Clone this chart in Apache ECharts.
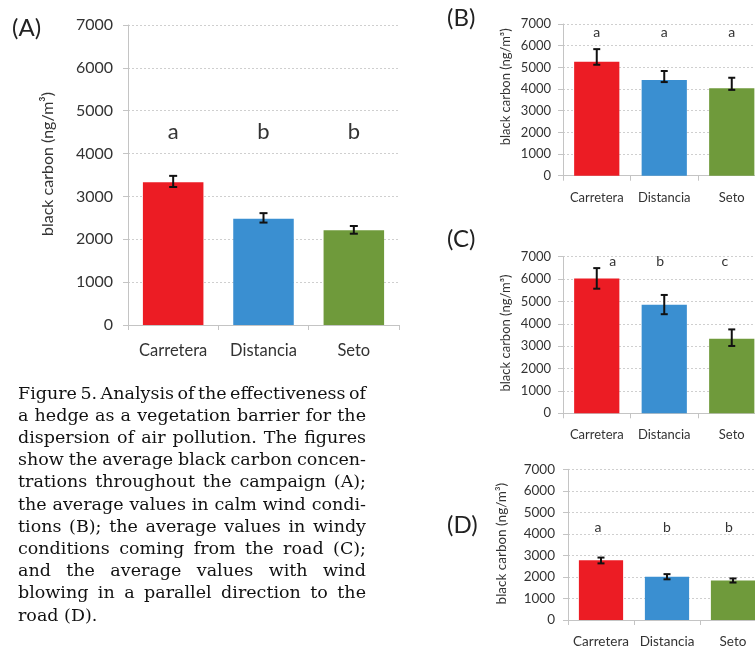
<!DOCTYPE html>
<html><head><meta charset="utf-8">
<script src="https://cdn.jsdelivr.net/npm/echarts@6/dist/echarts.min.js"></script>
<style>html,body{margin:0;padding:0;background:#fff}#c{width:755px;height:648px}</style>
</head><body><div id="c"></div>
<script>
// ---------- data ----------
const categories = ['Carretera', 'Distancia', 'Seto'];
const yTickMax = 7000;
const yTickStep = 1000;
const axisName = 'black carbon (ng/m³)';

const meanA = [3330, 2480, 2210];
const lowA  = [3220, 2390, 2130];
const highA = [3480, 2610, 2310];
const lettersA = ['a', 'b', 'b'];

const meanB = [5260, 4420, 4040];
const lowB  = [5120, 4320, 3960];
const highB = [5840, 4830, 4520];
const lettersB = ['a', 'a', 'a'];

const meanC = [6030, 4850, 3330];
const lowC  = [5570, 4430, 3010];
const highC = [6490, 5290, 3750];
const lettersC = ['a', 'b', 'c'];

const meanD = [2770, 2010, 1830];
const lowD  = [2630, 1890, 1740];
const highD = [2900, 2130, 1930];
const lettersD = ['a', 'b', 'b'];

const captionLines = [
  'Figure 5. Analysis of the effectiveness of',
  'a hedge as a vegetation barrier for the',
  'dispersion of air pollution. The figures',
  'show the average black carbon concen-',
  'trations throughout the campaign (A);',
  'the average values in calm wind condi-',
  'tions (B); the average values in windy',
  'conditions coming from the road (C);',
  'and the average values with wind',
  'blowing in a parallel direction to the',
  'road (D).'
];

// ---------- styling / layout ----------
const barColors = ['#EC1C24', '#3A8FD1', '#6F9A3B'];
const sans = 'Lato, "Noto Sans", sans-serif';
const txt = '#333333';
const panels = [
  {title: '(A)', tx: 12, ty: 30, mean: meanA, low: lowA, high: highA, letters: lettersA,
   grid: {left: 128, top: 25, width: 271, height: 300}, fs: 16, lfs: 22, level: 4500,
   ldx: [0, 0, 0], nameGap: 72, namePad: 22, yMargin: 15, xMargin: 17, cap: 4},
  {title: '(B)', tx: 447, ty: 20, mean: meanB, low: lowB, high: highB, letters: lettersB,
   grid: {left: 563, top: 24, width: 202.5, height: 151.7}, fs: 13, lfs: 14, level: 6600,
   ldx: [0, 0, 0], nameGap: 51, namePad: 26, yMargin: 12, xMargin: 16, cap: 3.5},
  {title: '(C)', tx: 447, ty: 241, mean: meanC, low: lowC, high: highC, letters: lettersC,
   grid: {left: 563, top: 256.7, width: 202.5, height: 156.6}, fs: 13, lfs: 14, level: 6800,
   ldx: [16, -4, -7], nameGap: 51, namePad: 4, yMargin: 12, xMargin: 15, cap: 3.5},
  {title: '(D)', tx: 447, ty: 527, mean: meanD, low: lowD, high: highD, letters: lettersD,
   grid: {left: 568, top: 469.3, width: 198, height: 150.7}, fs: 13.5, lfs: 14, level: 4300,
   ldx: [-3, 0, -4], nameGap: 59, namePad: 2, yMargin: 13, xMargin: 15, cap: 3.5}
];

const grids = [], xAxes = [], yAxes = [], series = [], graphics = [];
panels.forEach((p, k) => {
  grids.push(Object.assign({outerBoundsMode: 'none', containLabel: false}, p.grid));
  xAxes.push({
    type: 'category', gridIndex: k, data: categories,
    axisLine: {lineStyle: {color: '#c4c4c4'}},
    axisTick: {show: true, length: 5, lineStyle: {color: '#c4c4c4'}},
    axisLabel: {color: txt, fontFamily: sans, fontSize: p.fs + (k === 0 ? 0.5 : 0), margin: p.xMargin, interval: 0}
  });
  yAxes.push({
    type: 'value', gridIndex: k, min: 0, max: yTickMax, interval: yTickStep,
    name: axisName, nameLocation: 'middle', nameGap: p.nameGap, nameRotate: 90,
    nameTextStyle: {color: txt, fontFamily: sans, fontSize: p.fs, padding: [0, 0, 0, p.namePad]},
    axisLine: {show: true, lineStyle: {color: '#c4c4c4'}},
    axisTick: {show: true, length: 5, lineStyle: {color: '#c4c4c4'}},
    axisLabel: {color: txt, fontFamily: sans, fontSize: p.fs, margin: p.yMargin, formatter: v => String(v)},
    splitLine: {lineStyle: {color: '#cfcfcf', type: [2, 2]}}
  });
  series.push({
    type: 'bar', xAxisIndex: k, yAxisIndex: k, barWidth: '67%', z: 2,
    data: p.mean.map((v, i) => ({value: v, itemStyle: {color: barColors[i]}})),
    silent: true, animation: false
  });
  series.push({
    type: 'custom', xAxisIndex: k, yAxisIndex: k, animation: false, silent: true, z: 10,
    encode: {x: 0, y: [1, 2]},
    data: p.low.map((v, i) => [i, v, p.high[i]]),
    renderItem: (params, api) => {
      const i = api.value(0);
      const a = api.coord([i, api.value(1)]);
      const b = api.coord([i, api.value(2)]);
      const st = {stroke: '#111', lineWidth: 2};
      const w = p.cap;
      return {type: 'group', children: [
        {type: 'line', shape: {x1: a[0], y1: a[1], x2: b[0], y2: b[1]}, style: st},
        {type: 'line', shape: {x1: a[0] - w, y1: a[1], x2: a[0] + w, y2: a[1]}, style: st},
        {type: 'line', shape: {x1: b[0] - w, y1: b[1], x2: b[0] + w, y2: b[1]}, style: st}
      ]};
    }
  });
  series.push({
    type: 'custom', xAxisIndex: k, yAxisIndex: k, animation: false, silent: true, z: 10,
    encode: {x: 0},
    data: p.letters.map((l, i) => [i]),
    renderItem: (params, api) => {
      const i = api.value(0);
      const c = api.coord([i, p.level]);
      return {type: 'text', x: c[0] + p.ldx[i], y: c[1],
        style: {text: p.letters[i], fill: '#333', fontFamily: sans, fontSize: p.lfs, align: 'center', verticalAlign: 'middle'}};
    }
  });
  graphics.push({type: 'text', left: p.tx, top: p.ty - 14,
    style: {text: p.title, fill: '#222', fontFamily: sans, fontSize: 24}});
});

// caption, justified word by word
(function () {
  const fam = '"DejaVu Serif", serif';
  const L = 18, R = 366, W = R - L;
  const ctx = document.createElement('canvas').getContext('2d');
  let fs = 18;
  const fits = () => {
    ctx.font = fs + 'px ' + fam;
    return captionLines.every((ln, k) => {
      if (k === captionLines.length - 1) return true;
      const ws = ln.split(' ');
      const s = ws.reduce((a, w) => a + ctx.measureText(w).width, 0);
      return s + (ws.length - 1) * fs * 0.16 <= W;
    });
  };
  while (!fits() && fs > 12) fs -= 0.25;
  ctx.font = fs + 'px ' + fam;
  const top = 394, lh = 22.2;
  captionLines.forEach((ln, k) => {
    const words = ln.split(' ');
    const ws = words.map(w => ctx.measureText(w).width);
    const sum = ws.reduce((a, b) => a + b, 0);
    const last = k === captionLines.length - 1;
    const gap = last ? ctx.measureText(' ').width : (W - sum) / (words.length - 1);
    let x = L;
    words.forEach((w, j) => {
      graphics.push({type: 'text', x: x, y: top + k * lh,
        style: {text: w, fill: '#111', fontFamily: fam, fontSize: fs, verticalAlign: 'middle', align: 'left'}});
      x += ws[j] + gap;
    });
  });
})();

const chart = echarts.init(document.getElementById('c'), null, {renderer: 'canvas'});
chart.setOption({
  animation: false,
  backgroundColor: '#fff',
  grid: grids, xAxis: xAxes, yAxis: yAxes, series: series,
  graphic: {elements: graphics}
});
</script>
</body></html>
